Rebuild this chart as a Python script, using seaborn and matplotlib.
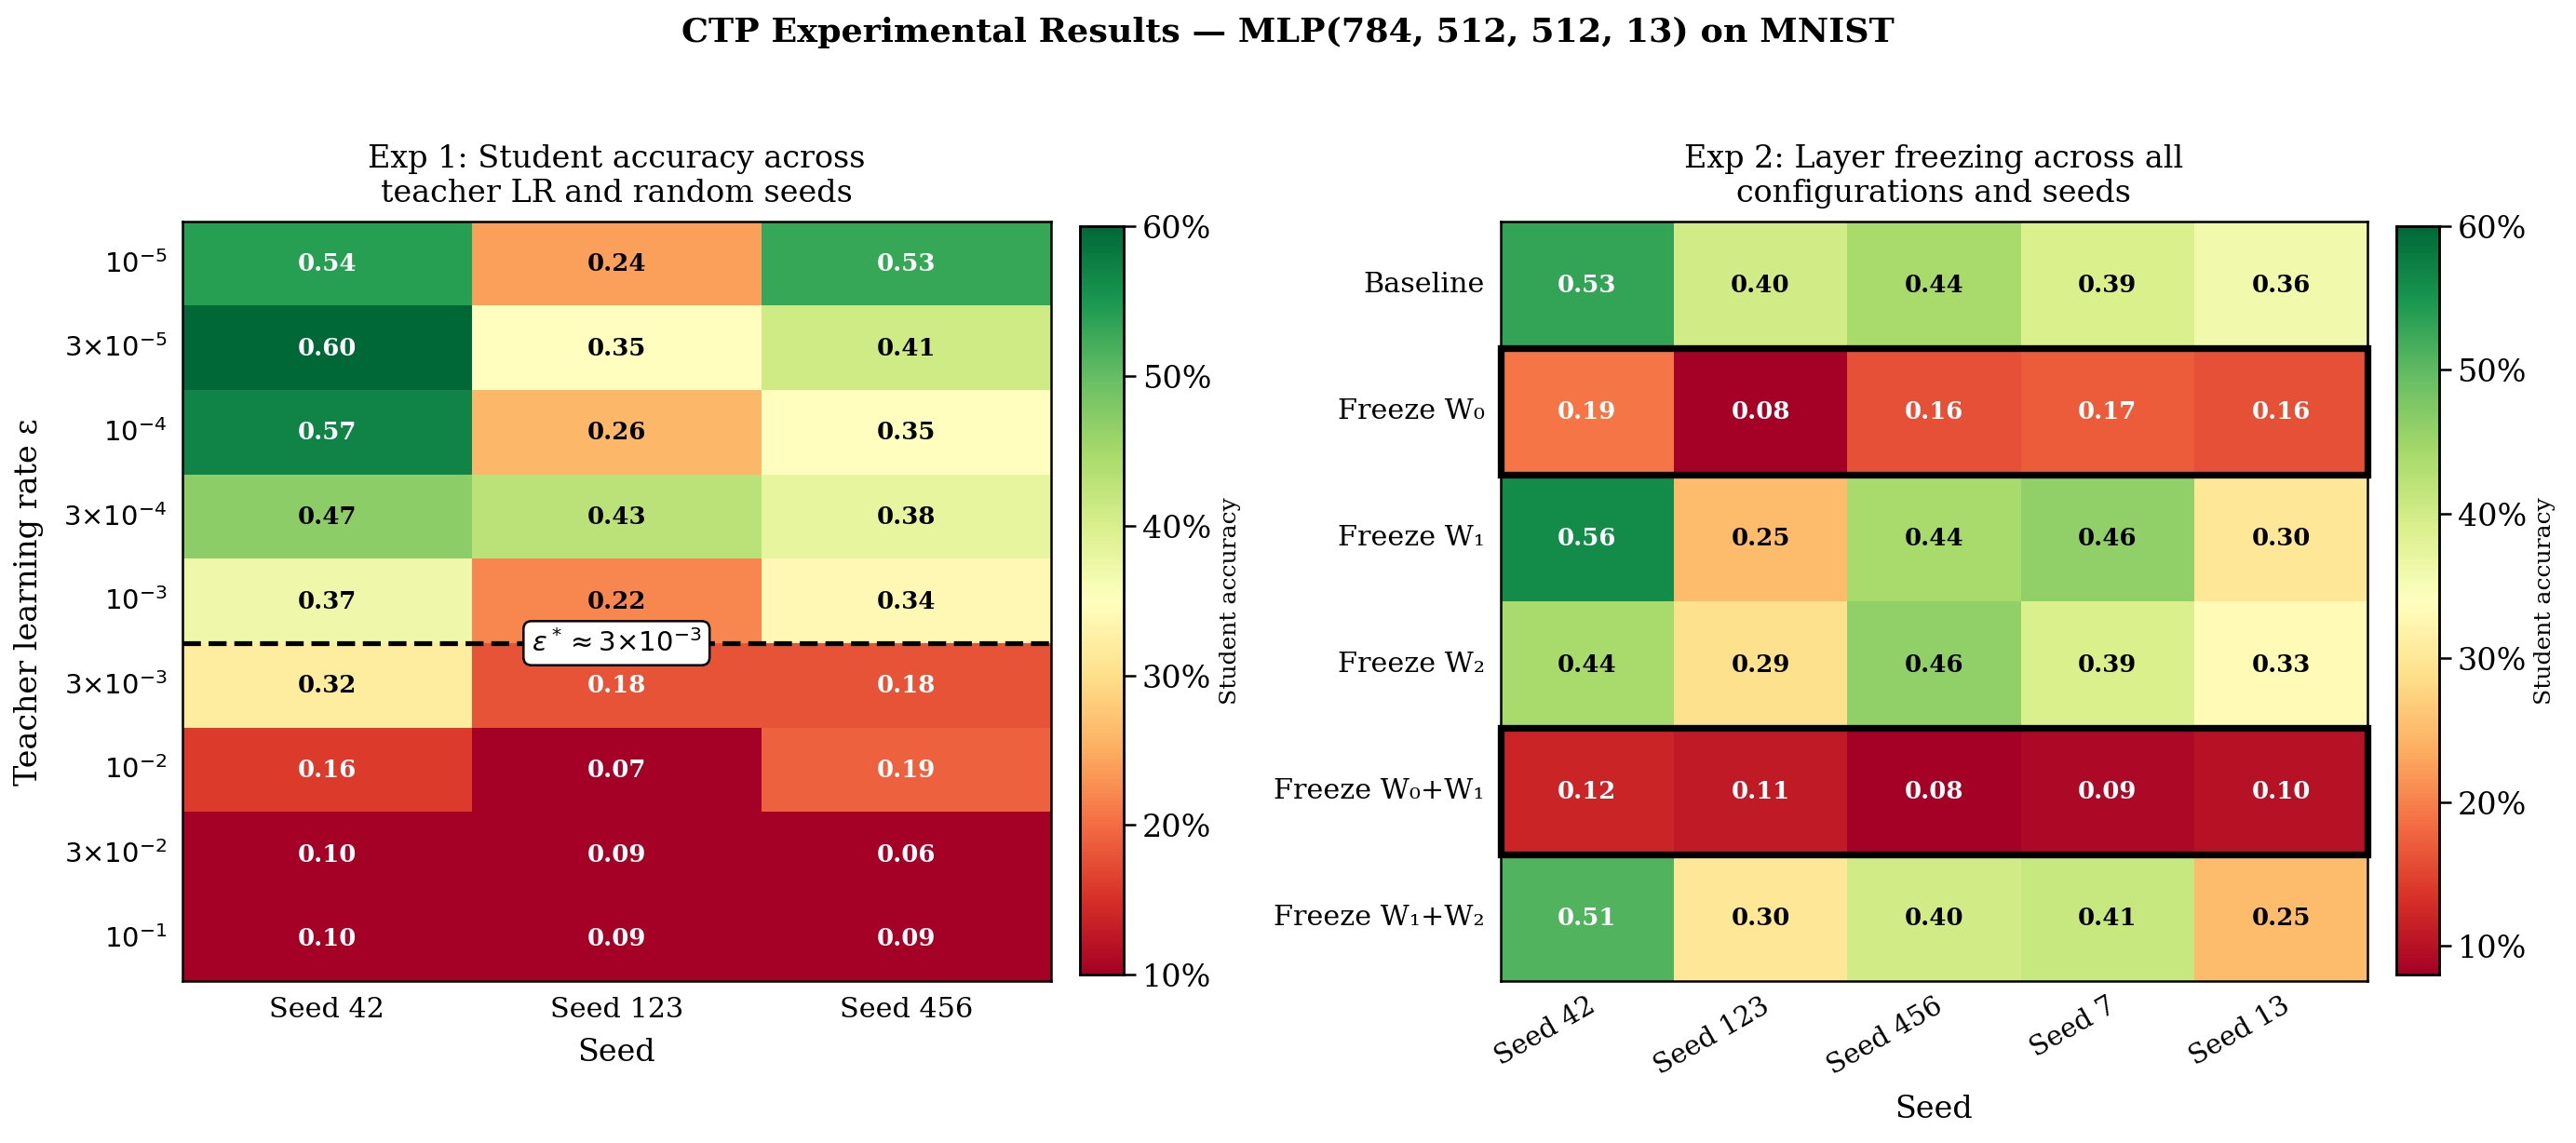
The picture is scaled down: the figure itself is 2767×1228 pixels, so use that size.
import numpy as np
import pandas as pd
import matplotlib
matplotlib.use("Agg")
import matplotlib.pyplot as plt
from matplotlib.patches import Rectangle
from matplotlib.ticker import PercentFormatter
import seaborn as sns

# Exp 1 data: student accuracy per teacher LR (rows) and seed (cols)
lr_labels = [r'$10^{-5}$', r'$3{\times}10^{-5}$', r'$10^{-4}$', r'$3{\times}10^{-4}$',
             r'$10^{-3}$', r'$3{\times}10^{-3}$', r'$10^{-2}$', r'$3{\times}10^{-2}$',
             r'$10^{-1}$']
exp1_seeds = ['Seed 42', 'Seed 123', 'Seed 456']
acc_seed42 = [0.54, 0.60, 0.57, 0.47, 0.37, 0.32, 0.16, 0.10, 0.10]
acc_seed123 = [0.24, 0.35, 0.26, 0.43, 0.22, 0.18, 0.07, 0.09, 0.09]
acc_seed456 = [0.53, 0.41, 0.35, 0.38, 0.34, 0.18, 0.19, 0.06, 0.09]

# Exp 2 data: layer freezing configs (rows) and seeds (cols)
configs = ['Baseline', 'Freeze W₀', 'Freeze W₁', 'Freeze W₂',
           'Freeze W₀+W₁', 'Freeze W₁+W₂']
exp2_seeds = ['Seed 42', 'Seed 123', 'Seed 456', 'Seed 7', 'Seed 13']
baseline = [0.53, 0.40, 0.44, 0.39, 0.36]
freeze_w0 = [0.19, 0.08, 0.16, 0.17, 0.16]
freeze_w1 = [0.56, 0.25, 0.44, 0.46, 0.30]
freeze_w2 = [0.44, 0.29, 0.46, 0.39, 0.33]
freeze_w0w1 = [0.12, 0.11, 0.08, 0.09, 0.10]
freeze_w1w2 = [0.51, 0.30, 0.40, 0.41, 0.25]
highlight_rows = [1, 4]

exp1 = pd.DataFrame({'Seed 42': acc_seed42, 'Seed 123': acc_seed123,
                     'Seed 456': acc_seed456}, index=lr_labels)[exp1_seeds]
exp2 = pd.DataFrame([baseline, freeze_w0, freeze_w1, freeze_w2, freeze_w0w1, freeze_w1w2],
                    index=configs, columns=exp2_seeds)

plt.rcParams['font.family'] = ['DejaVu Serif', 'DejaVu Sans']

fig = plt.figure(figsize=(18.45, 8.19), dpi=150)
ax1 = fig.add_axes([0.0708, 0.142, 0.337, 0.664])
cax1 = fig.add_axes([0.419, 0.147, 0.0172, 0.655])
ax2 = fig.add_axes([0.5823, 0.142, 0.3367, 0.664])
cax2 = fig.add_axes([0.930, 0.147, 0.0166, 0.655])


def recolor(ax, df):
    vals = df.values.ravel()
    for t, v in zip(ax.texts, vals):
        t.set_color('white' if (v < 0.20 or v > 0.50) else 'black')


def style_cbar(cax):
    cax.yaxis.set_major_formatter(PercentFormatter(xmax=1, decimals=0))
    cax.tick_params(labelsize=16, length=6, width=1.2)
    cax.set_ylabel('Student accuracy', fontsize=12)
    for s in cax.spines.values():
        s.set_visible(True)
        s.set_linewidth(1.2)


annot_kws = {'fontsize': 12.5, 'fontweight': 'bold'}

# Exp 1
sns.heatmap(exp1, ax=ax1, cbar_ax=cax1, cmap='RdYlGn', vmin=0.10, vmax=0.60,
            annot=True, fmt='.2f', annot_kws=annot_kws,
            cbar_kws={'ticks': [0.1, 0.2, 0.3, 0.4, 0.5, 0.6]})
recolor(ax1, exp1)
ax1.axhline(5, color='black', linestyle='--', linewidth=2.5)
ax1.text(1.5, 5, r'$\varepsilon^* \approx 3{\times}10^{-3}$', ha='center', va='center',
         fontsize=14, bbox=dict(boxstyle='round,pad=0.3', fc='white', ec='black', lw=1.2))
ax1.set_title('Exp 1: Student accuracy across\nteacher LR and random seeds', fontsize=16, pad=10)
ax1.set_xlabel('Seed', fontsize=16, labelpad=8)
ax1.set_ylabel('Teacher learning rate ε', fontsize=16, labelpad=10)
ax1.tick_params(axis='y', labelsize=14, rotation=0, length=0, pad=8)
ax1.tick_params(axis='x', labelsize=14.5, length=0, pad=8)
for s in ax1.spines.values():
    s.set_visible(True)
    s.set_linewidth(1.2)
style_cbar(cax1)

# Exp 2
sns.heatmap(exp2, ax=ax2, cbar_ax=cax2, cmap='RdYlGn', vmin=exp2.values.min(), vmax=0.60,
            annot=True, fmt='.2f', annot_kws=annot_kws,
            cbar_kws={'ticks': [0.1, 0.2, 0.3, 0.4, 0.5, 0.6]})
recolor(ax2, exp2)
for r in highlight_rows:
    ax2.add_patch(Rectangle((0, r), len(exp2_seeds), 1, fill=False,
                            edgecolor='black', linewidth=3.5, clip_on=False))
ax2.set_title('Exp 2: Layer freezing across all\nconfigurations and seeds', fontsize=16, pad=10)
ax2.set_xlabel('Seed', fontsize=16, labelpad=8)
ax2.set_ylabel('')
ax2.tick_params(axis='y', labelsize=14.5, rotation=0, length=0, pad=8)
ax2.tick_params(axis='x', labelsize=14, length=0, pad=6)
plt.setp(ax2.get_xticklabels(), rotation=30, ha='right', rotation_mode='anchor')
for s in ax2.spines.values():
    s.set_visible(True)
    s.set_linewidth(1.2)
style_cbar(cax2)

fig.suptitle('CTP Experimental Results — MLP(784, 512, 512, 13) on MNIST',
             fontsize=17.5, fontweight='bold', y=0.985)

fig.savefig('out.png', dpi=150)
